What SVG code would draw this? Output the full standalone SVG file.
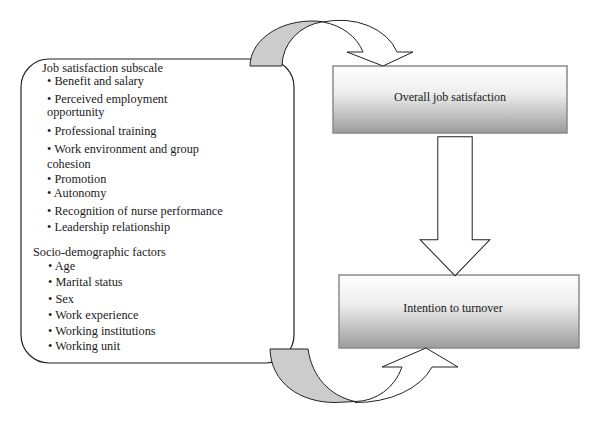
<svg xmlns="http://www.w3.org/2000/svg" width="600" height="424" viewBox="0 0 600 424">
<defs>
<linearGradient id="boxGrad" x1="0" y1="0" x2="0" y2="1">
<stop offset="0" stop-color="#ffffff"/>
<stop offset="0.4" stop-color="#eeeeee"/>
<stop offset="1" stop-color="#9c9c9c"/>
</linearGradient>
<style>
text{font-family:"Liberation Serif","Times New Roman",serif;font-size:12px;fill:#1a1a1a}
.list{font-size:12.3px}
.grad{fill:url(#boxGrad);stroke:#8a8a8a;stroke-width:1.5}
.frame{fill:#ffffff;stroke:#222;stroke-width:1.2}
.back{fill:#cccccc;stroke:#222;stroke-width:1}
.front{fill:#ffffff;stroke:#222;stroke-width:1}
.mid{text-anchor:middle}
</style>
</defs>
<rect width="600" height="424" fill="#ffffff"/>

<g id="job-factors">
<rect class="frame" x="21" y="59" width="273" height="304" rx="28" ry="28"/>
<g class="list">
<text class="list" x="42" y="71.5">Job satisfaction subscale</text>
<text class="list" x="47" y="85">• Benefit and salary</text>
<text class="list" x="47" y="102.5">• Perceived employment</text>
<text class="list" x="47" y="115.5">opportunity</text>
<text class="list" x="47" y="135">• Professional training</text>
<text class="list" x="47" y="152.5">• Work environment and group</text>
<text class="list" x="47" y="168">cohesion</text>
<text class="list" x="47" y="182.5">• Promotion</text>
<text class="list" x="47" y="196.5">• Autonomy</text>
<text class="list" x="47" y="215">• Recognition of nurse performance</text>
<text class="list" x="47" y="230.5">• Leadership relationship</text>
<text class="list" x="33" y="256">Socio-demographic factors</text>
<text class="list" x="48" y="269.5">• Age</text>
<text class="list" x="48" y="286">• Marital status</text>
<text class="list" x="48" y="302.5">• Sex</text>
<text class="list" x="48" y="318.5">• Work experience</text>
<text class="list" x="48" y="334.5">• Working institutions</text>
<text class="list" x="48" y="350">• Working unit</text>
</g>
</g>

<g id="overall-satisfaction">
<rect class="grad" x="333" y="66" width="234" height="67"/>
<text class="mid" x="450" y="101">Overall job satisfaction</text>
</g>

<g id="intention-turnover">
<rect class="grad" x="339" y="275" width="240" height="73"/>
<text class="mid" x="453" y="312">Intention to turnover</text>
</g>

<g id="connectors">
<g id="top-curved-arrow">
<path class="back" d="M250,66 A62,45 0 0 1 323,21.7 A48,45 0 0 0 282,66 Z"/>
<path class="front" d="M323,22 A60,45 0 0 1 397,52 L413,52 L383,66 L347,52 L363,52 A54,45 0 0 0 323,22 Z"/>
</g>
<g id="down-arrow">
<path d="M439,138 L471,138 L471,241 L487,241 L455,274 L423,241 L439,241 Z" fill="#ffffff" stroke="#222" stroke-width="3.4" stroke-linejoin="miter"/>
<path d="M439,138 L471,138 L471,241 L487,241 L455,274 L423,241 L439,241 Z" fill="#ffffff" stroke="#ffffff" stroke-width="1.4" stroke-linejoin="miter"/>
</g>
<g id="bottom-curved-arrow">
<path class="back" d="M270,349 L308,349 C312,377 330,396 355,401.5 L335,402.5 C300,402.5 271,383 270,349 Z"/>
<path class="front" d="M355,402.5 A80,53 0 0 0 432,367 L458,367 L426,348 L382,367 L402,367 A50,52 0 0 1 355,401.5 Z"/>
</g>
</g>
</svg>
